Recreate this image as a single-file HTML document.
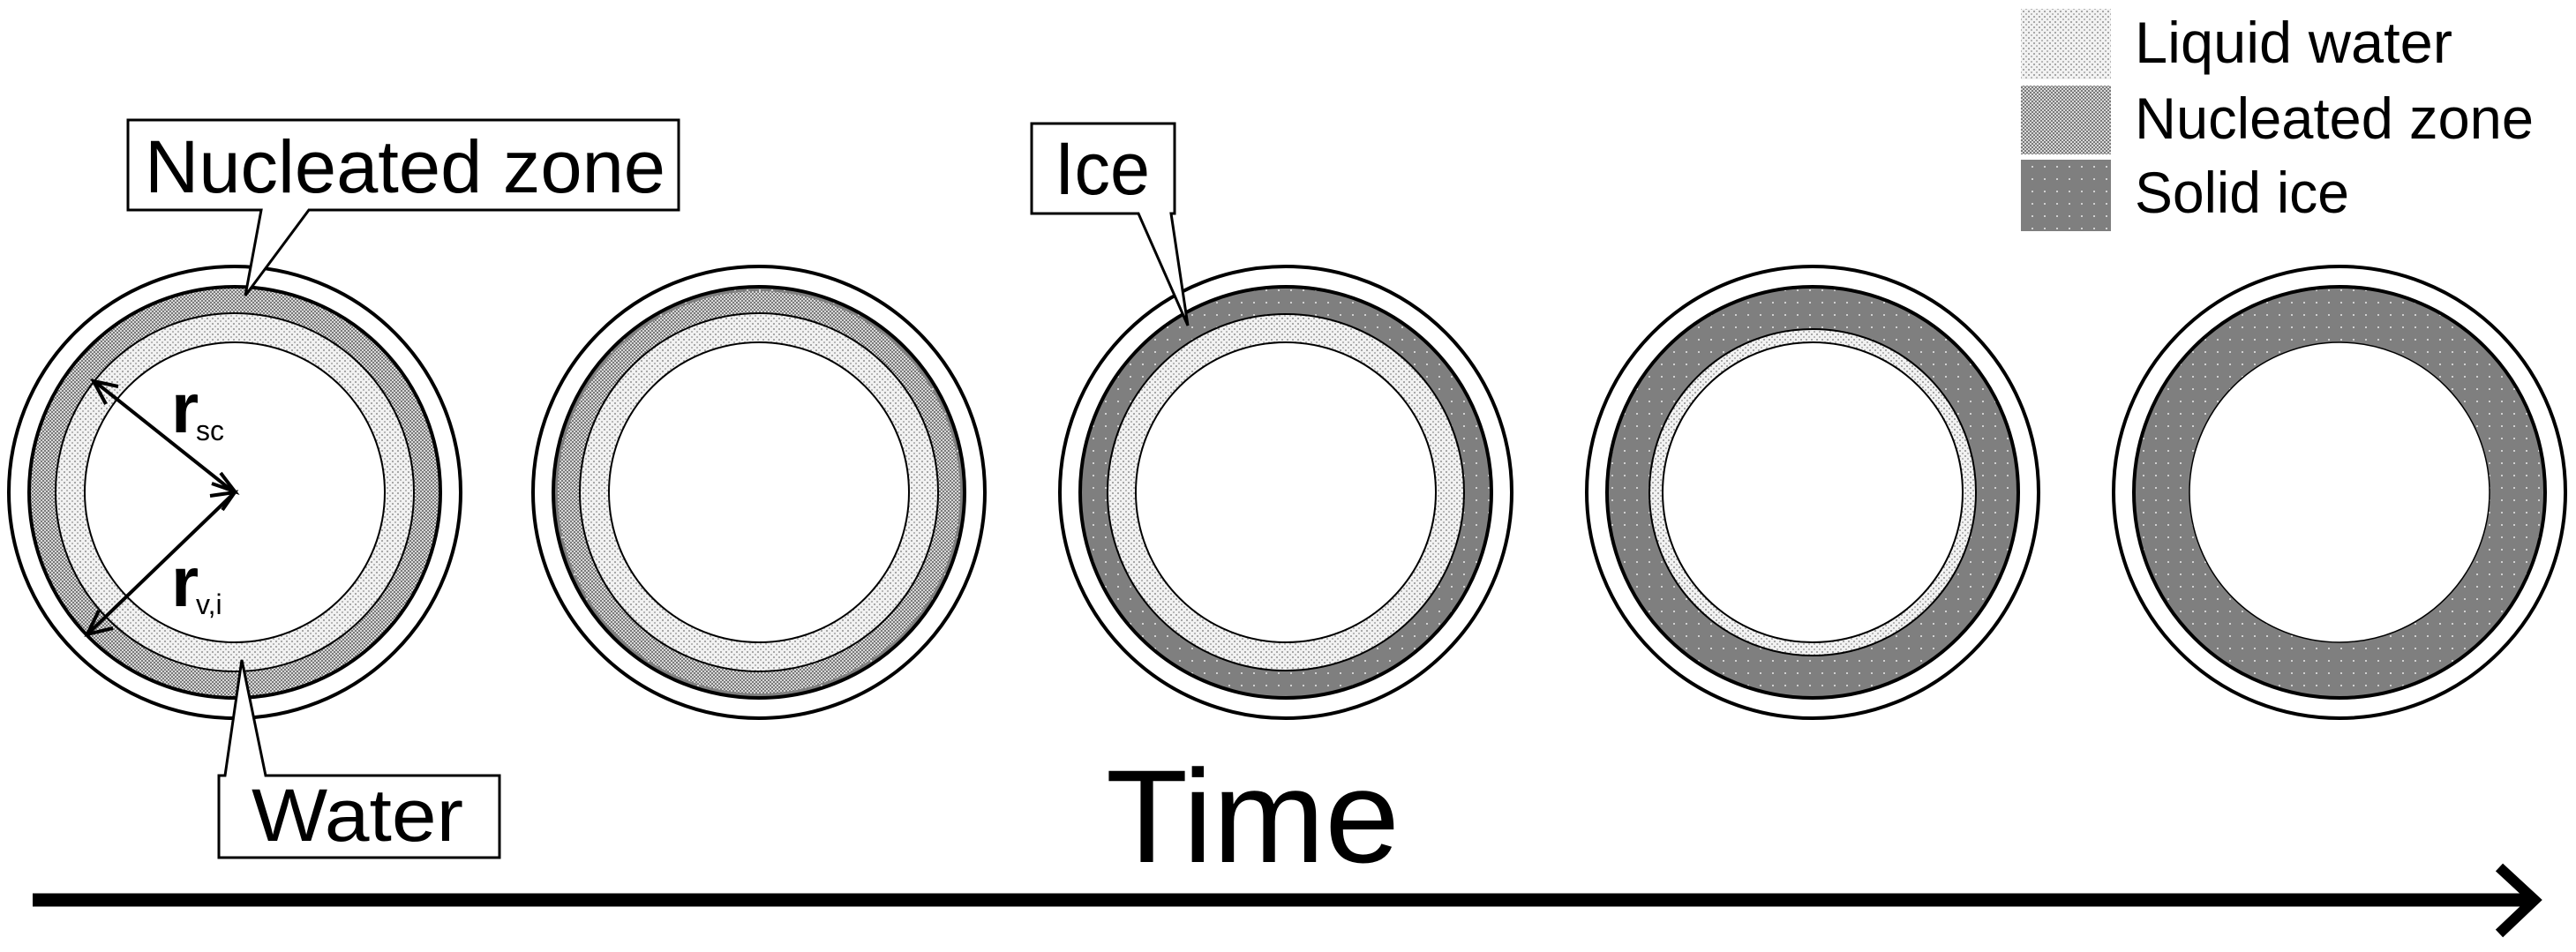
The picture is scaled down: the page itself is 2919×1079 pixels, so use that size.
<!DOCTYPE html>
<html><head><meta charset="utf-8"><style>
html,body{margin:0;padding:0;background:#fff;}
svg{display:block;}
text{font-family:"Liberation Sans",sans-serif;fill:#000;}
</style></head><body>
<svg width="2919" height="1079" viewBox="0 0 2919 1079" xmlns="http://www.w3.org/2000/svg">
<defs>
<pattern id="liq" width="6" height="6" patternUnits="userSpaceOnUse">
<rect width="6" height="6" fill="#f2f2f2"/><rect x="0" y="0" width="2" height="2" fill="#a8a8a8"/><rect x="3" y="3" width="2" height="2" fill="#b8b8b8"/>
</pattern>
<pattern id="nuc" width="4" height="4" patternUnits="userSpaceOnUse">
<rect width="4" height="4" fill="#d8d8d8"/><rect x="0" y="0" width="2" height="2" fill="#7a7a7a"/><rect x="2" y="2" width="2" height="2" fill="#7a7a7a"/>
</pattern>
<pattern id="ice" width="14" height="14" patternUnits="userSpaceOnUse">
<rect width="14" height="14" fill="#7f7f7f"/><rect x="6" y="6" width="2" height="2" fill="#d0d0d0"/>
</pattern>
</defs>

<g>
<circle cx="266" cy="558" r="256" fill="#fff" stroke="#000" stroke-width="4"/>
<circle cx="266" cy="558" r="233" fill="url(#nuc)" stroke="#000" stroke-width="4"/>
<circle cx="266" cy="558" r="203" fill="url(#liq)" stroke="#000" stroke-width="2"/>
<circle cx="266" cy="558" r="170" fill="#fff" stroke="#000" stroke-width="2"/>
</g>
<g>
<circle cx="860" cy="558" r="256" fill="#fff" stroke="#000" stroke-width="4"/>
<circle cx="860" cy="558" r="233" fill="url(#ice)" stroke="#000" stroke-width="4"/>
<circle cx="860" cy="558" r="228" fill="url(#nuc)"/>
<circle cx="860" cy="558" r="203" fill="url(#liq)" stroke="#000" stroke-width="2"/>
<circle cx="860" cy="558" r="170" fill="#fff" stroke="#000" stroke-width="2"/>
</g>
<g>
<circle cx="1457" cy="558" r="256" fill="#fff" stroke="#000" stroke-width="4"/>
<circle cx="1457" cy="558" r="233" fill="url(#ice)" stroke="#000" stroke-width="4"/>
<circle cx="1457" cy="558" r="202" fill="url(#liq)" stroke="#000" stroke-width="2"/>
<circle cx="1457" cy="558" r="170" fill="#fff" stroke="#000" stroke-width="2"/>
</g>
<g>
<circle cx="2054" cy="558" r="256" fill="#fff" stroke="#000" stroke-width="4"/>
<circle cx="2054" cy="558" r="233" fill="url(#ice)" stroke="#000" stroke-width="4"/>
<circle cx="2054" cy="558" r="185" fill="url(#liq)" stroke="#000" stroke-width="2"/>
<circle cx="2054" cy="558" r="170" fill="#fff" stroke="#000" stroke-width="2"/>
</g>
<g>
<circle cx="2651" cy="558" r="256" fill="#fff" stroke="#000" stroke-width="4"/>
<circle cx="2651" cy="558" r="233" fill="url(#ice)" stroke="#000" stroke-width="4"/>
<circle cx="2651" cy="558" r="170" fill="#fff" stroke="#000" stroke-width="1.5"/>
</g>

<g stroke="#000" stroke-width="4" fill="none">
<line x1="264" y1="557" x2="108" y2="433"/>
<polyline points="120,458 106,432 134,438"/>
<polyline points="240,548 266,557 250,536"/>
<line x1="264" y1="560" x2="101" y2="717"/>
<polyline points="112,692 99,719 128,712"/>
<polyline points="238,562 266,558 252,578"/>
</g>
<text x="194" y="490" font-size="80" font-weight="bold">r</text><text x="222" y="499" font-size="32">sc</text>
<text x="194" y="687" font-size="80" font-weight="bold">r</text><text x="222" y="696" font-size="32">v,i</text>

<polygon points="145,136 769,136 769,238 350,238 278,335 296,238 145,238" fill="#fff" stroke="#000" stroke-width="3"/>
<text x="164" y="218" font-size="84" textLength="590" lengthAdjust="spacingAndGlyphs">Nucleated zone</text>
<polygon points="248,879 255,879 274,748 301,879 566,879 566,972 248,972" fill="#fff" stroke="#000" stroke-width="3"/>
<text x="285" y="953" font-size="84" textLength="240" lengthAdjust="spacingAndGlyphs">Water</text>
<polygon points="1169,140 1331,140 1331,242 1327,242 1346,369 1290,242 1169,242" fill="#fff" stroke="#000" stroke-width="3"/>
<text x="1195" y="220" font-size="84" textLength="108" lengthAdjust="spacingAndGlyphs">Ice</text>

<text x="1253" y="977" font-size="150" textLength="333" lengthAdjust="spacingAndGlyphs">Time</text>
<line x1="37" y1="1020" x2="2870" y2="1020" stroke="#000" stroke-width="15"/>
<polyline points="2832,983 2872,1020 2832,1058" fill="none" stroke="#000" stroke-width="12"/>

<rect x="2290" y="10" width="102" height="80" fill="url(#liq)"/>
<rect x="2290" y="97" width="102" height="78" fill="url(#nuc)"/>
<rect x="2290" y="181" width="102" height="81" fill="url(#ice)"/>
<text x="2419" y="71" font-size="66" textLength="360" lengthAdjust="spacingAndGlyphs">Liquid water</text>
<text x="2419" y="157" font-size="66" textLength="452" lengthAdjust="spacingAndGlyphs">Nucleated zone</text>
<text x="2419" y="241" font-size="66" textLength="243" lengthAdjust="spacingAndGlyphs">Solid ice</text>
</svg>
</body></html>
